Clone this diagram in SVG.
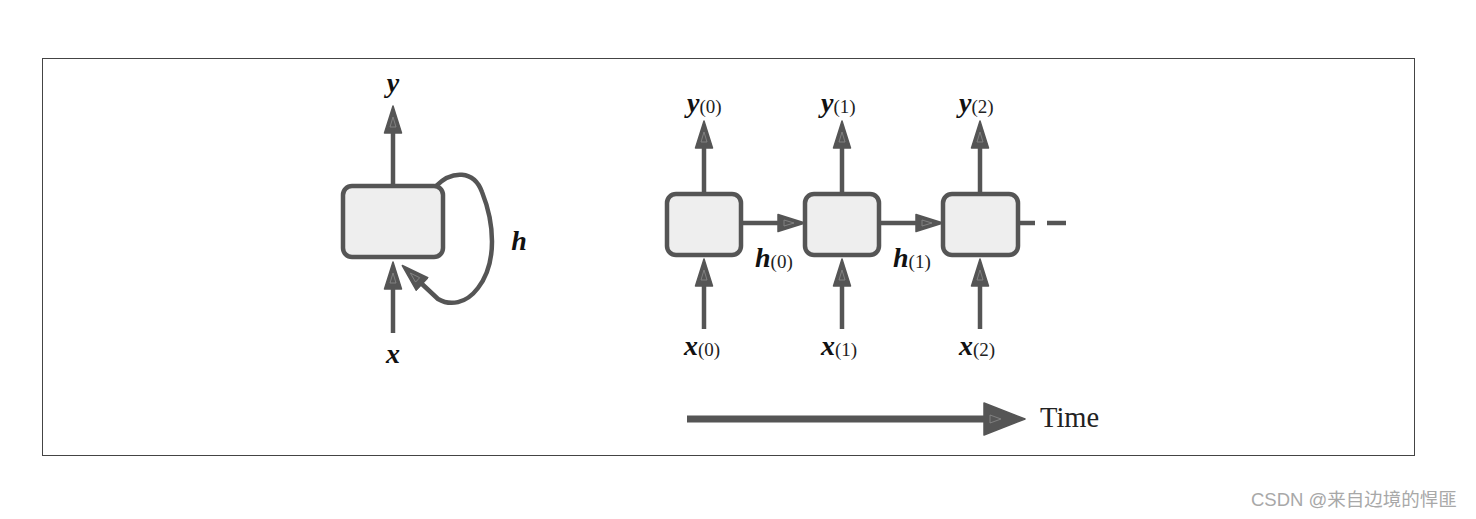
<svg xmlns="http://www.w3.org/2000/svg" width="1476" height="519" viewBox="0 0 1476 519">
<style>
.cell{fill:#eeeeee;stroke:#555555;stroke-width:4.5}
.ln{fill:none;stroke:#555555;stroke-width:4.5;stroke-linejoin:round}
.v{font-family:"Liberation Serif",serif;font-weight:bold;font-style:italic;font-size:28px;fill:#111}
.s{font-family:"Liberation Serif",serif;font-weight:normal;font-style:normal;font-size:19px;fill:#222}
.t{font-family:"Liberation Serif",serif;font-size:28.5px;fill:#222}
.wm{font-family:"Liberation Sans","Noto Sans CJK SC",sans-serif;font-size:18.5px;fill:#a8a8a8}
</style>
<defs>
<marker id="ah" markerUnits="userSpaceOnUse" viewBox="0 0 30 20" markerWidth="30" markerHeight="20" refX="1" refY="10" orient="auto">
<path d="M1,1.5 L28,10 L1,18.5 z" fill="#555555" stroke="#555555" stroke-width="1.5" stroke-linejoin="round"/>
<path d="M7,7 L17,10 L7,13 z" fill="none" stroke="#8a8a8a" stroke-width="0.8"/>
</marker>
<marker id="ahT" markerUnits="userSpaceOnUse" viewBox="0 0 44 34" markerWidth="44" markerHeight="34" refX="1" refY="17" orient="auto">
<path d="M1,1 L42,17 L1,33 z" fill="#555555" stroke="#555555" stroke-width="1.5" stroke-linejoin="round"/>
<path d="M7,13 L18,17 L7,21 z" fill="none" stroke="#8a8a8a" stroke-width="0.8"/>
</marker>
</defs>
<rect x="42.5" y="58.5" width="1372" height="397" fill="#ffffff" stroke="#444444" stroke-width="1"/>
<g id="connectors">
<line class="ln" x1="393" y1="186" x2="393" y2="133" marker-end="url(#ah)"/>
<line class="ln" x1="393" y1="333" x2="393" y2="289" marker-end="url(#ah)"/>
<path class="ln" d="M436,186 C452,170 474,170 482,192 C494,222 498,262 478,288 C466,304 450,306 438,299 L422,284" marker-end="url(#ah)"/>
<line class="ln" x1="704" y1="194" x2="704" y2="148" marker-end="url(#ah)"/>
<line class="ln" x1="842" y1="194" x2="842" y2="148" marker-end="url(#ah)"/>
<line class="ln" x1="980" y1="194" x2="980" y2="148" marker-end="url(#ah)"/>
<line class="ln" x1="704" y1="329" x2="704" y2="286" marker-end="url(#ah)"/>
<line class="ln" x1="842" y1="329" x2="842" y2="286" marker-end="url(#ah)"/>
<line class="ln" x1="980" y1="329" x2="980" y2="286" marker-end="url(#ah)"/>
<line class="ln" x1="741" y1="223" x2="778" y2="223" marker-end="url(#ah)"/>
<line class="ln" x1="879" y1="223" x2="916" y2="223" marker-end="url(#ah)"/>
<line class="ln" x1="1018" y1="223" x2="1035" y2="223"/>
<line class="ln" x1="1047" y1="223" x2="1066" y2="223"/>
<line x1="687" y1="419" x2="984" y2="419" stroke="#555555" stroke-width="7" marker-end="url(#ahT)"/>
</g>
<g id="rnn-folded">
<rect class="cell" x="343" y="186" width="100" height="71" rx="9"/>
<text class="v" x="393" y="92" text-anchor="middle">y</text>
<text class="v" x="393" y="363" text-anchor="middle">x</text>
<text class="v" x="519" y="250" text-anchor="middle">h</text>
</g>
<g id="cell0">
<rect class="cell" x="667" y="194" width="74" height="61" rx="9"/>
<text x="687" y="112"><tspan class="v">y</tspan><tspan class="s" dy="1">(0)</tspan></text>
<text x="684" y="355"><tspan class="v">x</tspan><tspan class="s" dy="1">(0)</tspan></text>
<text x="755" y="267"><tspan class="v">h</tspan><tspan class="s" dy="1">(0)</tspan></text>
</g>
<g id="cell1">
<rect class="cell" x="805" y="194" width="74" height="61" rx="9"/>
<text x="821" y="112"><tspan class="v">y</tspan><tspan class="s" dy="1">(1)</tspan></text>
<text x="821" y="355"><tspan class="v">x</tspan><tspan class="s" dy="1">(1)</tspan></text>
<text x="893" y="267"><tspan class="v">h</tspan><tspan class="s" dy="1">(1)</tspan></text>
</g>
<g id="cell2">
<rect class="cell" x="943" y="194" width="75" height="61" rx="9"/>
<text x="959" y="112"><tspan class="v">y</tspan><tspan class="s" dy="1">(2)</tspan></text>
<text x="959" y="355"><tspan class="v">x</tspan><tspan class="s" dy="1">(2)</tspan></text>
</g>
<g id="time">
<text class="t" x="1040" y="427">Time</text>
</g>
<text class="wm" x="1251" y="506">CSDN @来自边境的悍匪</text>
</svg>
